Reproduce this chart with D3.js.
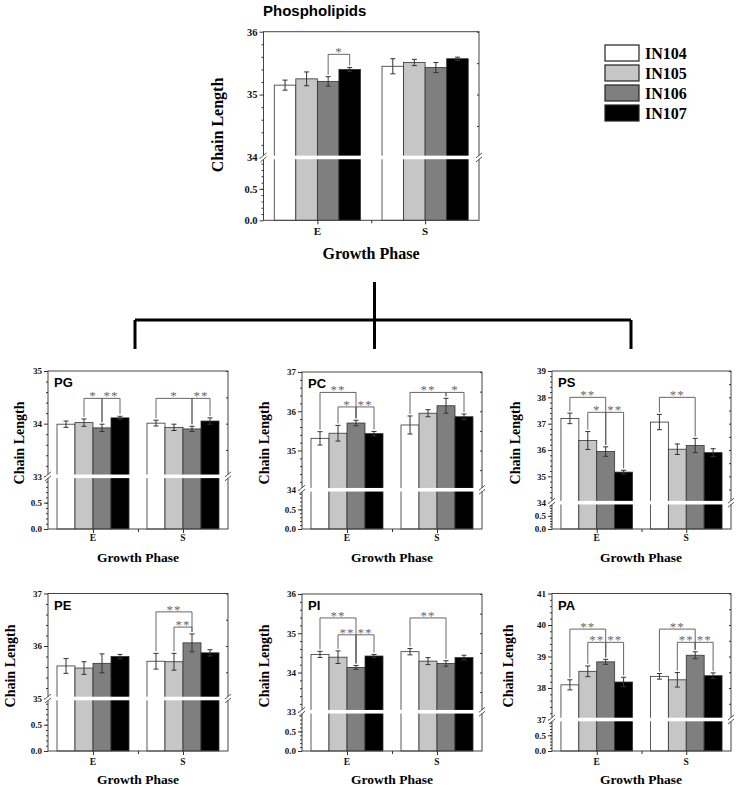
<!DOCTYPE html>
<html><head><meta charset="utf-8">
<script src="https://cdn.jsdelivr.net/npm/d3@7"></script>
<style>body{margin:0;background:#fff}</style>
</head><body>
<svg id="c" width="738" height="787"></svg>
<script>
// ---------- data ----------
const groups = ["E", "S"];
const strains = ["IN104", "IN105", "IN106", "IN107"];
const strainColors = ["#ffffff", "#c6c6c6", "#7f7f7f", "#000000"];
const lowerTickLabels = [0, 0.5];

// means / errors per group [E, S], each with 4 strains
const phosMeans = [[35.15, 35.25, 35.21, 35.40], [35.45, 35.51, 35.43, 35.57]];
const phosErrs  = [[0.08, 0.11, 0.075, 0.03], [0.12, 0.05, 0.08, 0.025]];
const phosSig   = [[0, 2, 3, 35.64, "*"]];
const phosRange = [34, 36];

const pgMeans = [[33.99, 34.02, 33.92, 34.11], [34.01, 33.93, 33.90, 34.05]];
const pgErrs  = [[0.06, 0.07, 0.07, 0.03], [0.055, 0.06, 0.05, 0.06]];
const pgSig   = [[0, 1, 2, 34.48, "*"], [0, 2, 3, 34.48, "**"], [1, 0, 2, 34.48, "*"], [1, 2, 3, 34.48, "**"]];
const pgRange = [33, 35];

const pcMeans = [[35.31, 35.44, 35.70, 35.43], [35.65, 35.95, 36.14, 35.86]];
const pcErrs  = [[0.17, 0.20, 0.07, 0.055], [0.23, 0.09, 0.19, 0.07]];
const pcSig   = [[0, 0, 2, 36.48, "**"], [0, 1, 2, 36.11, "*"], [0, 2, 3, 36.11, "**"], [1, 0, 2, 36.48, "**"], [1, 2, 3, 36.48, "*"]];
const pcRange = [34, 37];

const psMeans = [[37.20, 36.36, 35.94, 35.16], [37.06, 36.03, 36.17, 35.90]];
const psErrs  = [[0.20, 0.34, 0.18, 0.07], [0.29, 0.20, 0.27, 0.15]];
const psSig   = [[0, 0, 2, 38.0, "**"], [0, 1, 2, 37.43, "*"], [0, 2, 3, 37.43, "**"], [1, 0, 2, 38.0, "**"]];
const psRange = [34, 39];

const peMeans = [[35.62, 35.58, 35.67, 35.80], [35.71, 35.70, 36.06, 35.87]];
const peErrs  = [[0.14, 0.12, 0.18, 0.04], [0.15, 0.16, 0.17, 0.06]];
const peSig   = [[1, 0, 2, 36.65, "**"], [1, 1, 2, 36.36, "**"]];
const peRange = [35, 37];

const piMeans = [[34.46, 34.39, 34.13, 34.42], [34.53, 34.29, 34.23, 34.38]];
const piErrs  = [[0.08, 0.16, 0.05, 0.04], [0.08, 0.09, 0.07, 0.06]];
const piSig   = [[0, 0, 2, 35.39, "**"], [0, 1, 2, 34.96, "**"], [0, 2, 3, 34.96, "**"], [1, 0, 2, 35.39, "**"]];
const piRange = [33, 36];

const paMeans = [[38.10, 38.53, 38.83, 38.19], [38.37, 38.26, 39.04, 38.39]];
const paErrs  = [[0.16, 0.17, 0.08, 0.15], [0.09, 0.23, 0.11, 0.09]];
const paSig   = [[0, 0, 2, 39.87, "**"], [0, 1, 2, 39.45, "**"], [0, 2, 3, 39.45, "**"], [1, 0, 2, 39.87, "**"], [1, 1, 2, 39.45, "**"], [1, 2, 3, 39.45, "**"]];
const paRange = [37, 41];

// ---------- layout ----------
const serif = "'Liberation Serif', 'Times New Roman', serif";
const sans = "'Liberation Sans', Arial, sans-serif";
const svg = d3.select("#c");

const panels = [
  {means: phosMeans, errs: phosErrs, sig: phosSig, range: phosRange, label: null,
   x0: 263.5, x1: 479, y0: 31.7, y1: 220.3, tickFs: 10.5, yl: [217, 125, 16], xl: [371, 259, 16], tl: 234.5},
  {means: pgMeans, errs: pgErrs, sig: pgSig, range: pgRange, label: "PG",
   x0: 48, x1: 228, y0: 371, y1: 529, tickFs: 9, yl: [19, 443, 14], xl: [138, 562, 13.5], tl: 541},
  {means: pcMeans, errs: pcErrs, sig: pcSig, range: pcRange, label: "PC",
   x0: 302, x1: 482, y0: 372, y1: 529, tickFs: 9, yl: [264, 443, 14], xl: [392, 562, 13.5], tl: 541},
  {means: psMeans, errs: psErrs, sig: psSig, range: psRange, label: "PS",
   x0: 552, x1: 731, y0: 371, y1: 529, tickFs: 9, yl: [515, 443, 14], xl: [641, 562, 13.5], tl: 541},
  {means: peMeans, errs: peErrs, sig: peSig, range: peRange, label: "PE",
   x0: 48, x1: 228, y0: 593.5, y1: 751, tickFs: 9, yl: [10, 666, 14], xl: [138, 784, 13.5], tl: 765},
  {means: piMeans, errs: piErrs, sig: piSig, range: piRange, label: "PI",
   x0: 302, x1: 482, y0: 594, y1: 751, tickFs: 9, yl: [264, 666, 14], xl: [392, 784, 13.5], tl: 765},
  {means: paMeans, errs: paErrs, sig: paSig, range: paRange, label: "PA",
   x0: 552, x1: 731, y0: 593.5, y1: 751, tickFs: 9, yl: [508, 666, 14], xl: [641, 784, 13.5], tl: 765}
];

function drawPanel(p) {
  const g = svg.append("g");
  const [base, top] = p.range;
  const x = d3.scaleLinear().domain([0.5, 2.5]).range([p.x0, p.x1]);
  const units = (top - base) + 1;
  const unitPx = (p.y1 - p.y0) / units;
  const breakY = p.y1 - unitPx;
  const yLow = d3.scaleLinear().domain([0, 1]).range([p.y1, breakY]);
  const yUp = d3.scaleLinear().domain([base, top]).range([breakY, p.y0]);
  const bw = 0.2;
  const bLeft = (gi, si) => x(gi + 1 - 0.4 + si * bw);
  const bCen = (gi, si) => x(gi + 1 - 0.4 + (si + 0.5) * bw);
  const bWid = x(bw) - x(0);

  // bars
  const flat = [];
  p.means.forEach((arr, gi) => arr.forEach((m, si) => flat.push({gi, si, m, e: p.errs[gi][si]})));
  g.selectAll("rect.bar").data(flat).join("rect").attr("class", "bar")
    .attr("x", d => bLeft(d.gi, d.si)).attr("width", bWid)
    .attr("y", d => yUp(d.m)).attr("height", d => p.y1 - yUp(d.m))
    .attr("fill", d => strainColors[d.si]).attr("stroke", "#333").attr("stroke-width", 0.8);

  // error bars
  const eb = g.selectAll("g.eb").data(flat).join("g").attr("stroke", "#333").attr("stroke-width", 1);
  eb.append("line").attr("x1", d => bCen(d.gi, d.si)).attr("x2", d => bCen(d.gi, d.si))
    .attr("y1", d => yUp(d.m - d.e)).attr("y2", d => yUp(d.m + d.e));
  [1, -1].forEach(s => eb.append("line")
    .attr("x1", d => bCen(d.gi, d.si) - 2.5).attr("x2", d => bCen(d.gi, d.si) + 2.5)
    .attr("y1", d => yUp(d.m + s * d.e)).attr("y2", d => yUp(d.m + s * d.e)));

  // frame
  g.append("rect").attr("x", p.x0).attr("y", p.y0).attr("width", p.x1 - p.x0).attr("height", p.y1 - p.y0)
    .attr("fill", "none").attr("stroke", "#444").attr("stroke-width", 1);

  // y axes
  const styleAxis = (sel, fs) => {
    sel.select(".domain").remove();
    sel.selectAll("line").attr("stroke", "#333");
    sel.selectAll("text").attr("font-family", serif).attr("font-weight", "bold")
      .attr("font-size", fs).attr("fill", "#111");
  };
  g.append("g").attr("transform", `translate(${p.x0},0)`)
    .call(d3.axisLeft(yUp).tickValues(d3.range(base, top + 0.001, 1)).tickFormat(d3.format("d")).tickSize(4).tickPadding(2))
    .call(s => styleAxis(s, p.tickFs));
  g.append("g").attr("transform", `translate(${p.x0},0)`)
    .call(d3.axisLeft(yUp).tickValues(d3.range(base, top, 0.2).filter(v => Math.abs(v - Math.round(v)) > 0.01)).tickFormat("").tickSize(2))
    .call(s => styleAxis(s, p.tickFs));
  g.append("g").attr("transform", `translate(${p.x0},0)`)
    .call(d3.axisLeft(yLow).tickValues(lowerTickLabels).tickFormat(d3.format(".1f")).tickSize(4).tickPadding(2))
    .call(s => styleAxis(s, p.tickFs));
  g.append("g").attr("transform", `translate(${p.x0},0)`)
    .call(d3.axisLeft(yLow).tickValues(d3.range(0.1, 1, 0.1)).tickFormat("").tickSize(2))
    .call(s => styleAxis(s, p.tickFs));
  // right minor ticks
  g.append("g").attr("transform", `translate(${p.x1},0)`)
    .call(d3.axisLeft(yUp).tickValues(d3.range(base, top + 0.001, 0.5)).tickFormat("").tickSize(2))
    .call(s => styleAxis(s, p.tickFs));

  // x axis
  g.append("g").attr("transform", `translate(0,${p.y1})`)
    .call(d3.axisBottom(x).tickValues([1, 2]).tickFormat(v => groups[v - 1]).tickSize(4).tickPadding(3))
    .call(s => { styleAxis(s, p.tickFs + 0.5); s.selectAll("text").remove(); });
  g.append("g").attr("transform", `translate(0,${p.y1})`)
    .call(d3.axisBottom(x).tickValues([1.5]).tickFormat("").tickSize(3))
    .call(s => styleAxis(s, p.tickFs));
  g.selectAll("text.cat").data(groups).join("text").attr("class", "cat")
    .attr("x", (d, i) => x(i + 1)).attr("y", p.tl).attr("text-anchor", "middle")
    .attr("font-family", serif).attr("font-weight", "bold").attr("font-size", p.tickFs + 0.5).attr("fill", "#111")
    .text(d => d);

  // axis break
  g.append("rect").attr("x", p.x0 - 3).attr("y", breakY - 1.8).attr("width", p.x1 - p.x0 + 6).attr("height", 3.6)
    .attr("fill", "#fff");
  [p.x0, p.x1].forEach(ax => {
    [-2, 2].forEach(dy => g.append("line")
      .attr("x1", ax - 3).attr("y1", breakY + dy + 2.5).attr("x2", ax + 3).attr("y2", breakY + dy - 2.5)
      .attr("stroke", "#444").attr("stroke-width", 0.9));
  });

  // significance brackets
  const sg = g.append("g").attr("stroke", "#666").attr("stroke-width", 1).attr("fill", "none");
  p.sig.forEach(([gi, a, b, lvl, lab]) => {
    const xa = bCen(gi, a), xb = bCen(gi, b), yy = yUp(lvl);
    const ta = yUp(p.means[gi][a] + p.errs[gi][a]) - 2;
    const tb = yUp(p.means[gi][b] + p.errs[gi][b]) - 2;
    sg.append("path").attr("d", `M${xa},${ta}V${yy}H${xb}V${tb}`);
    g.append("text").attr("x", (xa + xb) / 2).attr("y", yy + 2)
      .attr("text-anchor", "middle").attr("font-family", serif).attr("font-size", 13)
      .attr("fill", "#333").attr("opacity", 0.75).style("letter-spacing", "1px").text(lab);
  });

  // panel label
  if (p.label) {
    g.append("text").attr("x", p.x0 + 6).attr("y", p.y0 + 16).attr("font-family", sans)
      .attr("font-weight", "bold").attr("font-size", 13).attr("fill", "#000").text(p.label);
  }

  // axis titles
  g.append("text").attr("transform", `translate(${p.yl[0]},${p.yl[1]}) rotate(-90)`)
    .attr("text-anchor", "middle").attr("dominant-baseline", "central")
    .attr("font-family", serif).attr("font-weight", "bold").attr("font-size", p.yl[2]).text("Chain Length");
  g.append("text").attr("x", p.xl[0]).attr("y", p.xl[1]).attr("text-anchor", "middle")
    .attr("font-family", serif).attr("font-weight", "bold").attr("font-size", p.xl[2]).text("Growth Phase");
}

panels.forEach(drawPanel);

// title
svg.append("text").attr("x", 263).attr("y", 15.5).attr("font-family", sans).attr("font-weight", "bold")
  .attr("font-size", 15).text("Phospholipids");

// legend
const lg = svg.append("g");
strains.forEach((s, i) => {
  lg.append("rect").attr("x", 605).attr("y", 45 + i * 20).attr("width", 34).attr("height", 16)
    .attr("fill", strainColors[i]).attr("stroke", "#222").attr("stroke-width", 1.2);
  lg.append("text").attr("x", 645).attr("y", 53 + i * 20).attr("dominant-baseline", "central")
    .attr("font-family", serif).attr("font-weight", "bold").attr("font-size", 16).text(s);
});

// connector
svg.append("path")
  .attr("d", "M374.5,282V349 M135,320H631 M135,320V349 M631,320V349")
  .attr("stroke", "#000").attr("stroke-width", 3).attr("fill", "none");
</script>
</body></html>
